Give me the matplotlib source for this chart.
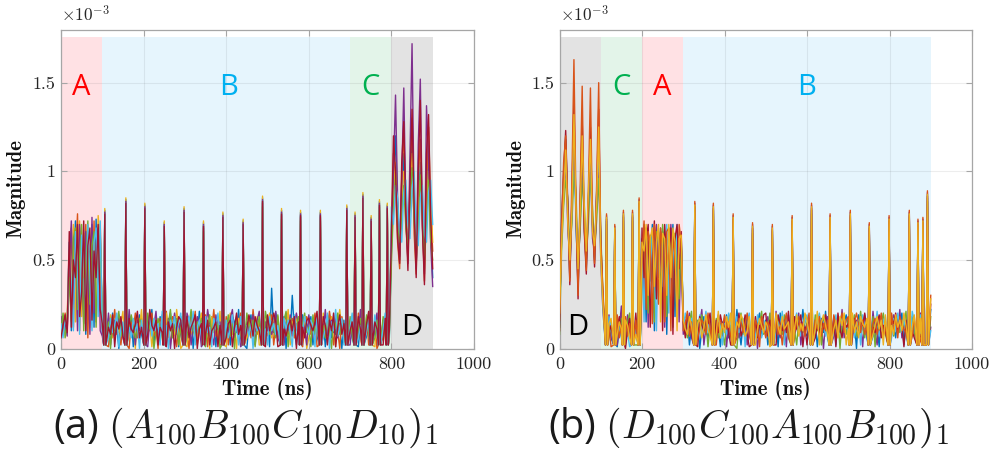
import numpy as np
import matplotlib
matplotlib.use("Agg")
import matplotlib.pyplot as plt
from matplotlib.patches import Rectangle

plt.rcParams["mathtext.fontset"] = "cm"
plt.rcParams["axes.formatter.use_mathtext"] = True

# ---------------------------------------------------------------------------
# Data (magnitudes in units of 1e-5, i.e. hundredths of 1e-3), sampled every 5 ns
# ---------------------------------------------------------------------------
step_ns = 5.0
unit = 1e-5

# (a) A100 B100 C100 D10
left_1 = [12, 18, 9, 14, 60, 10, 42, 72, 15, 64, 22, 55, 8, 66, 38, 70, 12, 73, 30, 66,
          9, 14, 2, 17, 11, 20, 7, 13, 0, 16, 10, 21, 6, 12, 18, 1, 15, 9, 19, 8,
          13, 6, 17, 10, 22, 2, 14, 8, 18, 12, 0, 16, 9, 20, 7, 11, 15, 1, 18, 10,
          6, 15, 11, 19, 0, 13, 8, 21, 10, 2, 16, 12, 7, 18, 14, 1, 17, 9, 13, 20,
          8, 12, 2, 18, 15, 9, 22, 6, 11, 16, 0, 14, 19, 7, 10, 12, 8, 15, 2, 13,
          17, 1, 34, 9, 20, 14, 6, 11, 18, 0, 15, 8, 30, 10, 2, 16, 12, 19, 7, 14,
          10, 18, 2, 13, 7, 22, 9, 15, 1, 12, 19, 6, 14, 8, 17, 11, 0, 16, 20, 9,
          13, 6, 18, 9, 1, 15, 11, 20, 7, 12, 0, 17, 10, 14, 2, 19, 8, 13, 16, 6,
          55, 95, 120, 80, 50, 78, 110, 85, 55, 88, 115, 75, 48, 70, 105, 80, 52, 82, 112, 70,
          40]
left_2 = [15, 8, 20, 11, 35, 68, 12, 50, 76, 10, 60, 40, 70, 6, 55, 28, 72, 15, 62, 70,
          12, 7, 19, 1, 14, 10, 22, 8, 16, 2, 13, 18, 9, 0, 15, 11, 20, 6, 12, 17,
          2, 16, 9, 13, 20, 7, 11, 0, 17, 14, 8, 21, 6, 12, 18, 9, 1, 15, 11, 19,
          14, 9, 0, 17, 12, 21, 6, 10, 15, 8, 19, 1, 13, 11, 22, 7, 16, 2, 12, 8,
          18, 2, 13, 10, 7, 16, 12, 20, 1, 14, 9, 17, 6, 22, 11, 8, 15, 0, 19, 10,
          7, 14, 19, 2, 12, 9, 16, 0, 13, 20, 8, 11, 17, 6, 14, 10, 22, 1, 12, 18,
          15, 8, 12, 20, 1, 11, 17, 7, 14, 9, 21, 13, 2, 16, 10, 0, 18, 12, 8, 14,
          9, 17, 1, 12, 20, 7, 14, 10, 18, 2, 13, 9, 16, 0, 11, 22, 7, 15, 10, 19,
          62, 110, 90, 60, 45, 95, 125, 70, 50, 98, 130, 65, 42, 95, 118, 72, 38, 90, 125, 80,
          55]
left_3 = [8, 16, 12, 19, 55, 20, 70, 15, 58, 72, 18, 65, 30, 60, 12, 68, 45, 20, 75, 58,
          16, 10, 1, 13, 19, 6, 11, 17, 9, 14, 21, 2, 10, 16, 7, 13, 0, 18, 11, 22,
          10, 19, 7, 14, 1, 12, 18, 9, 15, 6, 13, 20, 11, 2, 16, 8, 22, 12, 0, 14,
          19, 1, 12, 8, 16, 10, 2, 14, 20, 11, 7, 15, 0, 18, 9, 13, 6, 21, 10, 16,
          1, 15, 20, 8, 12, 0, 17, 10, 14, 21, 6, 11, 16, 9, 13, 18, 2, 12, 20, 7,
          12, 20, 6, 16, 10, 18, 1, 14, 9, 12, 22, 2, 15, 11, 19, 7, 13, 8, 16, 0,
          6, 13, 17, 9, 16, 2, 12, 20, 10, 15, 7, 18, 11, 1, 14, 22, 9, 6, 13, 17,
          16, 11, 8, 21, 13, 9, 2, 16, 12, 19, 8, 14, 1, 18, 12, 9, 15, 6, 20, 11,
          70, 88, 105, 75, 55, 82, 100, 90, 62, 80, 110, 85, 50, 78, 95, 88, 45, 75, 100, 85,
          60]
left_4 = [18, 10, 14, 7, 48, 72, 25, 62, 10, 70, 52, 14, 66, 44, 8, 74, 20, 60, 68, 10,
          7, 15, 11, 20, 2, 12, 16, 9, 19, 13, 6, 17, 11, 22, 8, 14, 2, 16, 10, 13,
          18, 11, 1, 16, 9, 13, 21, 6, 10, 19, 15, 7, 17, 0, 12, 20, 10, 14, 8, 6,
          11, 20, 16, 2, 13, 9, 18, 12, 1, 17, 10, 22, 14, 8, 2, 19, 11, 15, 21, 12,
          13, 9, 17, 22, 6, 14, 10, 1, 18, 11, 15, 8, 12, 19, 2, 16, 21, 10, 7, 15,
          10, 16, 8, 13, 21, 6, 18, 12, 2, 15, 10, 19, 7, 14, 20, 13, 9, 16, 11, 2,
          19, 11, 6, 15, 12, 18, 1, 10, 22, 7, 13, 16, 9, 19, 6, 14, 12, 8, 15, 10,
          2, 14, 12, 17, 9, 22, 13, 6, 15, 10, 18, 7, 12, 20, 9, 14, 16, 11, 1, 17,
          60, 100, 143, 85, 52, 95, 147, 78, 48, 110, 172, 80, 45, 115, 152, 70, 42, 137, 105, 60,
          35]
left_5 = [10, 20, 6, 15, 40, 15, 62, 68, 22, 50, 70, 10, 48, 72, 25, 58, 66, 12, 52, 64,
          20, 13, 8, 15, 0, 18, 10, 14, 21, 7, 12, 1, 16, 9, 19, 13, 6, 11, 17, 14,
          8, 14, 20, 11, 16, 0, 9, 17, 12, 7, 18, 10, 14, 22, 6, 13, 17, 2, 12, 16,
          16, 7, 13, 22, 10, 6, 15, 9, 17, 13, 1, 11, 19, 6, 16, 10, 14, 0, 18, 9,
          11, 19, 7, 14, 0, 18, 12, 15, 8, 6, 20, 13, 10, 16, 1, 12, 18, 9, 14, 21,
          14, 8, 15, 11, 6, 19, 13, 9, 16, 21, 1, 17, 12, 8, 11, 18, 2, 14, 20, 9,
          12, 1, 19, 8, 14, 10, 16, 13, 6, 18, 11, 0, 17, 12, 20, 8, 15, 10, 2, 21,
          18, 8, 15, 6, 11, 17, 1, 13, 19, 9, 15, 11, 6, 16, 13, 0, 18, 10, 13, 8,
          48, 80, 98, 70, 60, 75, 92, 68, 58, 80, 102, 72, 55, 65, 98, 75, 50, 70, 95, 62,
          50]
left_6 = [14, 6, 17, 12, 58, 35, 10, 66, 45, 8, 64, 55, 15, 70, 42, 10, 60, 68, 18, 72,
          11, 22, 14, 6, 17, 9, 13, 20, 1, 11, 15, 8, 19, 12, 6, 17, 10, 14, 0, 16,
          15, 1, 12, 19, 7, 17, 10, 14, 2, 21, 9, 13, 0, 16, 11, 18, 8, 15, 20, 6,
          8, 13, 18, 10, 21, 2, 12, 16, 7, 14, 18, 9, 12, 1, 17, 11, 20, 8, 6, 14,
          16, 6, 11, 19, 9, 13, 2, 18, 10, 22, 13, 7, 15, 0, 17, 10, 12, 20, 8, 11,
          2, 18, 10, 14, 8, 13, 20, 7, 17, 11, 16, 9, 1, 19, 12, 6, 15, 10, 18, 12,
          8, 16, 13, 1, 18, 9, 14, 6, 11, 20, 0, 15, 10, 22, 7, 12, 17, 2, 11, 14,
          12, 20, 9, 14, 6, 13, 18, 0, 10, 16, 7, 12, 19, 8, 17, 6, 11, 20, 9, 13,
          80, 70, 92, 85, 65, 60, 88, 95, 70, 62, 90, 100, 68, 58, 85, 92, 64, 60, 88, 95,
          70]
left_7 = [6, 13, 19, 9, 66, 12, 50, 40, 70, 18, 32, 72, 10, 58, 68, 16, 55, 40, 70, 22,
          14, 2, 16, 12, 8, 19, 1, 15, 11, 18, 7, 13, 0, 17, 11, 9, 14, 21, 6, 12,
          11, 17, 8, 22, 13, 10, 16, 2, 12, 9, 20, 1, 15, 10, 14, 0, 12, 18, 16, 9,
          13, 18, 6, 12, 15, 19, 0, 11, 14, 20, 8, 16, 2, 10, 12, 15, 1, 13, 9, 19,
          6, 14, 16, 1, 12, 20, 8, 13, 17, 2, 11, 19, 14, 7, 18, 13, 10, 6, 16, 1,
          19, 10, 14, 20, 15, 1, 9, 17, 11, 7, 13, 16, 10, 18, 0, 15, 8, 12, 6, 16,
          17, 13, 10, 15, 21, 6, 11, 18, 13, 2, 16, 10, 20, 1, 12, 19, 8, 14, 17, 7,
          10, 15, 13, 2, 18, 11, 16, 8, 14, 21, 10, 1, 15, 11, 20, 12, 2, 17, 14, 10,
          65, 120, 100, 62, 48, 105, 128, 75, 44, 92, 135, 80, 40, 100, 140, 68, 36, 110, 132, 75,
          45]
left_spike_ns = [106, 157, 203, 250, 298, 345, 392, 441, 488, 534, 580, 628, 692,
                 712, 731, 751, 771, 790]
left_spike_height = [77, 83, 80, 70, 78, 70, 75, 71, 84, 77, 76, 76, 79,
                     75, 86, 73, 82, 80]
left_spike_offset = [1, -2, 2, 0, -4, -1, -1]
left_regions = ["A", "B", "C", "D"]
left_bounds = [0, 100, 700, 800, 900]

# (b) D100 C100 A100 B100
right_1 = [12, 70, 95, 118, 78, 40, 82, 128, 72, 34, 78, 115, 68, 46, 84, 110, 70, 50, 88, 112,
           58, 28, 12, 8, 15, 6, 18, 11, 1, 14, 20, 9, 2, 16, 10, 22, 7, 13, 0, 12,
           45, 66, 15, 62, 38, 70, 10, 58, 45, 68, 22, 64, 8, 60, 50, 70, 18, 66, 35, 62,
           14, 9, 17, 2, 12, 20, 8, 15, 0, 11, 18, 10, 6, 16, 13, 21, 7, 12, 1, 15,
           10, 19, 6, 13, 16, 8, 22, 11, 2, 14, 9, 18, 12, 0, 17, 10, 15, 20, 7, 13,
           16, 2, 11, 18, 9, 14, 1, 20, 12, 7, 15, 10, 19, 6, 13, 17, 8, 11, 22, 9,
           7, 13, 20, 10, 15, 1, 12, 17, 9, 21, 6, 14, 11, 18, 2, 16, 12, 8, 14, 19,
           12, 17, 8, 14, 0, 19, 10, 13, 16, 6, 20, 11, 7, 15, 12, 1, 18, 9, 14, 21,
           9, 15, 12, 6, 18, 11, 20, 2, 14, 10, 17, 8, 13, 22, 9, 15, 6, 12, 18, 14,
           22]
right_2 = [18, 62, 88, 105, 70, 48, 75, 118, 80, 42, 70, 108, 75, 50, 78, 105, 62, 55, 80, 100,
           50, 22, 15, 10, 19, 7, 13, 16, 2, 11, 24, 14, 8, 19, 12, 6, 17, 10, 15, 8,
           62, 30, 68, 12, 56, 65, 20, 70, 40, 55, 66, 12, 62, 42, 70, 25, 58, 64, 15, 60,
           8, 16, 11, 20, 6, 13, 17, 9, 14, 22, 2, 12, 18, 10, 15, 0, 13, 19, 11, 7,
           17, 1, 14, 11, 20, 9, 13, 6, 18, 12, 16, 2, 10, 21, 8, 14, 0, 12, 16, 10,
           9, 18, 13, 7, 15, 21, 10, 6, 16, 13, 1, 19, 11, 14, 8, 12, 20, 2, 15, 11,
           14, 10, 2, 17, 12, 19, 8, 13, 0, 15, 18, 10, 20, 7, 12, 14, 9, 22, 6, 11,
           6, 20, 13, 10, 16, 9, 14, 1, 19, 12, 8, 15, 21, 10, 2, 17, 13, 11, 16, 7,
           16, 8, 19, 13, 10, 22, 6, 15, 11, 18, 1, 14, 9, 16, 12, 20, 8, 13, 2, 17,
           12]
right_3 = [8, 55, 80, 95, 85, 55, 70, 100, 88, 48, 66, 95, 82, 52, 70, 98, 80, 56, 72, 96,
           66, 32, 18, 12, 6, 15, 9, 21, 13, 8, 17, 1, 12, 15, 20, 9, 14, 2, 11, 18,
           35, 70, 48, 20, 64, 58, 15, 66, 60, 30, 70, 52, 18, 68, 56, 12, 65, 48, 28, 64,
           18, 12, 6, 14, 21, 10, 7, 16, 12, 19, 9, 15, 1, 13, 20, 11, 17, 6, 14, 10,
           2, 13, 18, 9, 12, 16, 0, 15, 20, 8, 13, 11, 17, 6, 19, 12, 9, 14, 21, 8,
           13, 10, 20, 15, 1, 11, 17, 13, 8, 19, 12, 6, 14, 22, 10, 2, 16, 12, 9, 18,
           11, 17, 8, 13, 19, 10, 15, 2, 18, 12, 9, 20, 6, 14, 11, 17, 0, 15, 12, 8,
           16, 9, 14, 19, 7, 12, 21, 11, 6, 15, 13, 9, 18, 1, 16, 10, 14, 20, 8, 12,
           11, 19, 7, 15, 14, 9, 16, 12, 21, 6, 13, 18, 10, 7, 17, 11, 14, 9, 20, 6,
           18]
right_4 = [14, 66, 90, 110, 75, 45, 80, 125, 70, 38, 82, 120, 72, 48, 80, 115, 68, 52, 85, 120,
           54, 25, 9, 14, 18, 11, 2, 14, 17, 10, 6, 20, 15, 9, 1, 13, 18, 11, 7, 15,
           58, 15, 65, 50, 20, 68, 44, 10, 62, 64, 35, 58, 70, 20, 55, 62, 40, 70, 55, 58,
           11, 20, 14, 8, 17, 2, 15, 12, 19, 7, 13, 21, 9, 16, 6, 14, 10, 18, 12, 2,
           14, 8, 20, 16, 2, 12, 18, 9, 13, 17, 1, 15, 20, 11, 13, 7, 19, 10, 6, 16,
           11, 14, 7, 12, 18, 9, 15, 11, 21, 2, 17, 13, 8, 10, 16, 20, 11, 7, 13, 15,
           19, 6, 14, 11, 8, 16, 20, 12, 15, 7, 13, 1, 16, 10, 19, 9, 14, 17, 10, 13,
           9, 14, 18, 6, 13, 16, 2, 19, 11, 8, 17, 14, 10, 12, 21, 7, 11, 15, 18, 1,
           14, 6, 17, 10, 20, 13, 9, 18, 7, 15, 11, 21, 16, 2, 12, 19, 10, 16, 8, 13,
           10]
right_5 = [10, 72, 100, 123, 82, 36, 85, 140, 75, 28, 80, 130, 66, 42, 82, 125, 70, 46, 86, 135,
           62, 30, 20, 16, 9, 13, 22, 7, 12, 18, 10, 15, 0, 11, 17, 12, 9, 20, 13, 6,
           68, 40, 60, 70, 12, 50, 72, 28, 56, 66, 10, 70, 46, 55, 68, 8, 62, 70, 45, 66,
           15, 6, 19, 12, 9, 16, 11, 1, 18, 13, 10, 17, 14, 20, 8, 12, 16, 9, 19, 13,
           12, 16, 9, 2, 18, 14, 10, 20, 7, 11, 19, 8, 1, 15, 12, 18, 6, 13, 11, 19,
           20, 7, 16, 10, 13, 2, 19, 14, 10, 16, 9, 21, 13, 2, 18, 11, 14, 19, 1, 12,
           2, 15, 11, 19, 6, 13, 9, 16, 11, 19, 14, 8, 12, 17, 1, 20, 11, 6, 16, 12,
           14, 11, 6, 17, 12, 8, 15, 13, 20, 10, 1, 18, 12, 9, 14, 19, 6, 13, 10, 16,
           7, 17, 14, 20, 9, 15, 12, 1, 16, 13, 19, 10, 6, 14, 19, 8, 17, 11, 15, 10,
           25]
right_6 = [16, 68, 105, 120, 80, 38, 95, 163, 82, 30, 88, 148, 70, 44, 90, 147, 72, 48, 92, 150,
           60, 35, 14, 20, 12, 1, 16, 10, 19, 6, 13, 11, 18, 7, 14, 10, 2, 16, 9, 20,
           52, 72, 22, 66, 58, 14, 70, 62, 25, 68, 56, 15, 66, 68, 10, 64, 52, 20, 70, 60,
           10, 14, 21, 7, 15, 12, 18, 6, 11, 16, 14, 8, 20, 12, 10, 17, 2, 14, 16, 11,
           19, 11, 15, 7, 10, 21, 6, 17, 15, 9, 14, 20, 8, 12, 6, 16, 13, 1, 18, 12,
           6, 15, 12, 19, 11, 16, 8, 13, 2, 14, 20, 7, 17, 12, 9, 15, 18, 10, 14, 7,
           13, 20, 9, 6, 16, 11, 18, 7, 14, 10, 16, 12, 2, 19, 13, 8, 15, 20, 9, 16,
           18, 2, 12, 15, 20, 14, 9, 16, 8, 13, 19, 6, 14, 17, 8, 13, 20, 7, 12, 15,
           12, 20, 10, 17, 6, 18, 14, 11, 9, 19, 15, 7, 18, 11, 15, 6, 13, 19, 10, 16,
           30]
right_7 = [20, 60, 85, 112, 72, 50, 78, 132, 78, 45, 75, 120, 80, 55, 88, 118, 66, 58, 82, 125,
           52, 26, 11, 6, 14, 17, 12, 19, 8, 15, 11, 7, 16, 13, 6, 19, 12, 8, 17, 10,
           60, 55, 70, 30, 62, 68, 35, 60, 70, 15, 65, 62, 30, 70, 40, 68, 60, 10, 62, 64,
           16, 11, 8, 18, 13, 20, 9, 14, 17, 6, 12, 19, 11, 7, 18, 13, 9, 21, 6, 14,
           9, 18, 12, 20, 14, 6, 15, 12, 19, 16, 7, 10, 18, 13, 21, 2, 11, 17, 13, 9,
           15, 12, 1, 17, 14, 20, 12, 8, 18, 11, 13, 15, 6, 17, 12, 19, 7, 14, 10, 20,
           16, 9, 17, 14, 11, 21, 2, 15, 19, 13, 8, 17, 14, 11, 16, 6, 18, 13, 20, 2,
           11, 16, 20, 9, 15, 6, 18, 14, 12, 17, 10, 21, 8, 13, 18, 11, 16, 2, 19, 13,
           17, 13, 8, 19, 12, 16, 10, 20, 13, 7, 16, 12, 19, 8, 14, 17, 11, 15, 13, 19,
           28]
right_spike_ns = [114, 134, 155, 177, 193,
                  328, 373, 421, 468, 516, 564, 611, 656, 705, 751, 799, 848, 869, 881, 892]
right_spike_height = [74, 68, 76, 76, 83,
                      81, 80, 74, 69, 68, 73, 80, 74, 76, 69, 73, 76, 71, 72, 87]
right_spike_offset = [-2, 1, -4, 0, -1, 2, 0]
right_regions = ["D", "C", "A", "B"]
right_bounds = [0, 100, 200, 300, 900]

spike_floor = 2
shade_top = 1.76e-3

x_ticks = [0, 200, 400, 600, 800, 1000]
x_tick_labels = ["0", "200", "400", "600", "800", "1000"]
y_ticks = [0, 0.5e-3, 1.0e-3, 1.5e-3]
y_tick_labels = ["0", "0.5", "1", "1.5"]

# ---------------------------------------------------------------------------
# Styling
# ---------------------------------------------------------------------------
blue, orange, yellow = "#0072BD", "#D95319", "#EDB120"
purple, green, cyan, dred = "#7E2F8E", "#77AC30", "#4DBEEE", "#A2142F"
left_colors = [blue, orange, yellow, purple, green, cyan, dred]
right_colors = [blue, purple, green, cyan, dred, orange, yellow]

shade = {"A": "#ffe1e4", "B": "#e6f5fd", "C": "#e3f4e9", "D": "#e3e3e3"}
letter_color = {"A": "#ff0000", "B": "#00b0f0", "C": "#00b050", "D": "#000000"}
spine_gray = "#a6a6a6"
text_dark = "#262626"


def trace_points(vals, spikes, heights, offset):
    """Sampled trace with narrow pulses inserted at their exact times."""
    assert len(vals) == 181, len(vals)
    t = np.arange(len(vals)) * step_ns
    y = np.asarray(vals, dtype=float)
    keep = np.ones(len(t), dtype=bool)
    for ts in spikes:
        keep &= np.abs(t - ts) >= 4.5
    tt = list(t[keep])
    yy = list(y[keep])
    for ts, h in zip(spikes, heights):
        tt += [ts - 2.5, ts, ts + 2.5]
        yy += [spike_floor, h + offset, spike_floor]
    order = np.argsort(tt, kind="stable")
    return np.asarray(tt)[order], np.asarray(yy)[order] * unit


def draw_panel(ax, traces, colors, spikes, heights, offsets, regions, bounds,
               letters, ylabel_x):
    for name, x0, x1 in zip(regions, bounds[:-1], bounds[1:]):
        ax.add_patch(Rectangle((x0, 0), x1 - x0, shade_top, facecolor=shade[name],
                               edgecolor="none", zorder=0))
    for xv in x_ticks:
        ax.axvline(xv, color=text_dark, alpha=0.08, lw=0.8, zorder=1)
    for yv in y_ticks:
        ax.axhline(yv, color=text_dark, alpha=0.08, lw=0.8, zorder=1)

    for vals, c, off in zip(traces, colors, offsets):
        t, y = trace_points(vals, spikes, heights, off)
        ax.plot(t, y, color=c, lw=1.0, zorder=3)

    for name, (xt, yt) in letters.items():
        ax.text(xt, yt, name, color=letter_color[name], fontsize=21,
                family="Open Sans", ha="center", va="center", zorder=4)

    ax.set_xlim(0, 1000)
    ax.set_ylim(0, 1.8e-3)
    ax.set_xticks(x_ticks)
    ax.set_xticklabels(x_tick_labels, family="cmr10", fontsize=13, color=text_dark)
    ax.set_yticks(y_ticks)
    ax.set_yticklabels(y_tick_labels, family="cmr10", fontsize=13, color=text_dark)
    ax.tick_params(direction="in", length=4, width=0.8, color=spine_gray,
                   top=True, right=True)
    ax.tick_params(axis="x", pad=6)
    ax.tick_params(axis="y", pad=4)
    for sp in ax.spines.values():
        sp.set_color(spine_gray)
        sp.set_linewidth(0.9)
    ax.set_xlabel("Time (ns)", family="cmb10", fontsize=15, color="#111111")
    ax.set_ylabel("Magnitude", family="cmb10", fontsize=15, color="#111111")
    ax.xaxis.set_label_coords(0.5, -0.0925)
    ax.yaxis.set_label_coords(ylabel_x, 0.5)
    ax.text(0.0, 1.012, r"$\times10^{-3}$", transform=ax.transAxes,
            fontsize=12.5, color=text_dark, ha="left", va="bottom")


fig = plt.figure(figsize=(9.92, 4.55), dpi=100)
ax_l = fig.add_axes([61 / 992, 106.5 / 455, 413 / 992, 319 / 455])
ax_r = fig.add_axes([559.5 / 992, 106.5 / 455, 412.5 / 992, 319 / 455])

draw_panel(ax_l, [left_1, left_2, left_3, left_4, left_5, left_6, left_7], left_colors,
           left_spike_ns, left_spike_height, left_spike_offset, left_regions, left_bounds,
           {"A": (50, 1.47e-3), "B": (405, 1.47e-3), "C": (750, 1.47e-3),
            "D": (850, 0.12e-3)}, -0.087)
draw_panel(ax_r, [right_1, right_2, right_3, right_4, right_5, right_6, right_7], right_colors,
           right_spike_ns, right_spike_height, right_spike_offset, right_regions, right_bounds,
           {"D": (45, 0.12e-3), "C": (150, 1.47e-3), "A": (250, 1.47e-3),
            "B": (600, 1.47e-3)}, -0.084)

fig.text(246 / 992, 1 - 428 / 455, r"(a) $(A_{100}B_{100}C_{100}D_{10})_1$",
         family="Open Sans", fontsize=28.5, ha="center", va="center", color="#1a1a1a")
fig.text(749 / 992, 1 - 428 / 455, r"(b) $(D_{100}C_{100}A_{100}B_{100})_1$",
         family="Open Sans", fontsize=28.5, ha="center", va="center", color="#1a1a1a")

fig.savefig("out.png", dpi=100)
